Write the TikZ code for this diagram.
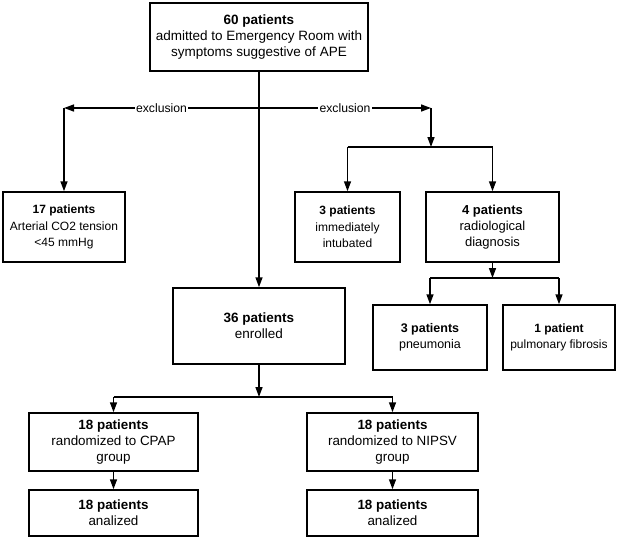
\documentclass[tikz,border=0pt]{standalone}
\usepackage{fontspec}
\setmainfont{Liberation Sans}
\usetikzlibrary{arrows.meta}
\tikzset{
  x=1pt,y=-1pt,
  box/.style={draw,line width=1.5pt,inner sep=0pt,align=center,
    font=\fontsize{13}{16.3}\selectfont},
  fs/.style={font=\fontsize{#1}{16.3}\selectfont},
  arr/.style={line width=1.5pt,-{Triangle[length=10pt,width=7pt]}},
  ln/.style={line width=1.5pt},
  lbl/.style={fill=white,inner sep=1.5pt,font=\fontsize{12.2}{14}\selectfont}
}
\begin{document}
\begin{tikzpicture}
\useasboundingbox (0,0) rectangle (619,538);
\node[box,fs=13.5,minimum width=218pt,minimum height=68pt] (top) at (259,37)
  {\textbf{60 patients}\\admitted to Emergency Room with\\symptoms suggestive of APE};
\node[box,fs=12,minimum width=122pt,minimum height=70pt] (n17) at (64,227)
  {\textbf{17 patients}\\Arterial CO2 tension\\<45 mmHg};
\node[box,fs=12,minimum width=105pt,minimum height=70pt] (n3i) at (347.5,227)
  {\textbf{3 patients}\\immediately\\intubated};
\node[box,fs=13,minimum width=133pt,minimum height=70pt] (n4) at (492.5,227)
  {\textbf{4 patients}\\radiological\\diagnosis};
\node[box,fs=13.5,minimum width=172pt,minimum height=76pt] (n36) at (259,326)
  {\textbf{36 patients}\\enrolled};
\node[box,fs=12.5,minimum width=114pt,minimum height=65pt] (npn) at (430,337.5)
  {\textbf{3 patients}\\pneumonia};
\node[box,fs=12,minimum width=112pt,minimum height=65pt] (npf) at (559,337.5)
  {\textbf{1 patient}\\pulmonary fibrosis};
\node[box,fs=13.4,minimum width=169pt,minimum height=58pt] (ncp) at (113.5,442)
  {\textbf{18 patients}\\randomized to CPAP\\group};
\node[box,fs=13.4,minimum width=171pt,minimum height=58pt] (nni) at (392.5,442)
  {\textbf{18 patients}\\randomized to NIPSV\\group};
\node[box,fs=13.4,minimum width=169pt,minimum height=46pt] (na1) at (113.5,513)
  {\textbf{18 patients}\\analized};
\node[box,fs=13.4,minimum width=171pt,minimum height=46pt] (na2) at (392.5,513)
  {\textbf{18 patients}\\analized};
% junctions
\coordinate (J) at (259,108);
\coordinate (L) at (64,108);
\coordinate (R) at (431,108);
\coordinate (B1) at (431,147);
\coordinate (B2) at (492.5,278);
\coordinate (B3) at (259,397);
% connectors
\draw[arr] (top.south) -- (n36.north);
\draw[arr] (J) -- node[lbl]{exclusion} (L);
\draw[arr] (J) -- node[lbl]{exclusion} (R);
\draw[arr] (L) -- (n17.north);
\draw[arr] (R) -- (B1);
\draw[ln] (n3i.north |- B1) -- (n4.north |- B1);
\draw[arr] (n3i.north |- B1) -- (n3i.north);
\draw[arr] (n4.north |- B1) -- (n4.north);
\draw[arr] (n4.south) -- (B2);
\draw[ln] (npn.north |- B2) -- (npf.north |- B2);
\draw[arr] (npn.north |- B2) -- (npn.north);
\draw[arr] (npf.north |- B2) -- (npf.north);
\draw[arr] (n36.south) -- (B3);
\draw[ln] (ncp.north |- B3) -- (nni.north |- B3);
\draw[arr] (ncp.north |- B3) -- (ncp.north);
\draw[arr] (nni.north |- B3) -- (nni.north);
\draw[arr] (ncp.south) -- (na1.north);
\draw[arr] (nni.south) -- (na2.north);
\end{tikzpicture}
\end{document}
